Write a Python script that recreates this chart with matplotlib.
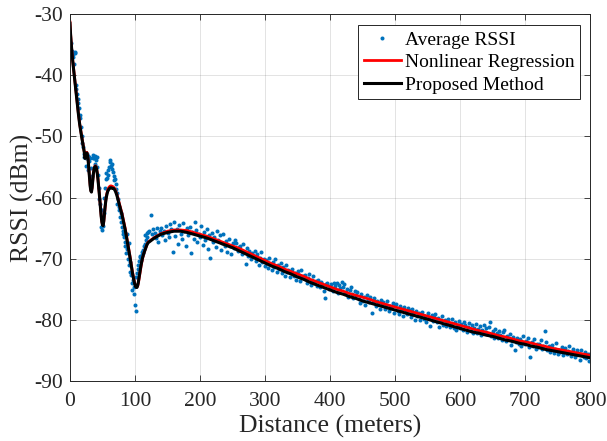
import matplotlib
matplotlib.use("Agg")
import matplotlib.pyplot as plt
import numpy as np

# Measured average RSSI, one sample per metre up to 120 m
rssi_near_d = np.arange(1, 121)
rssi_near = [
    -34.8, -36.7, -36.0, -36.5, -37.0, -38.1, -36.4, -36.2, -41.6, -42.3,
    -43.0, -43.8, -44.6, -45.4, -46.5, -47.0, -48.5, -50.0, -51.0, -51.7,
    -53.3, -52.8, -53.0, -54.8, -53.5, -52.9, -53.2, -55.5, -54.0, -53.4,
    -53.6, -55.2, -57.0, -56.5, -53.5, -53.0, -53.6, -53.2, -54.5, -53.9,
    -53.4, -55.0, -56.3, -58.5, -60.2, -61.0, -62.0, -64.8, -62.1, -65.3,
    -64.6, -62.5, -60.0, -58.5, -57.0, -56.0, -56.8, -55.5, -56.3, -55.0,
    -54.2, -53.9, -54.8, -55.3, -54.5, -55.8, -56.5, -57.2, -57.0, -57.8,
    -58.6, -59.2, -61.0, -60.3, -62.0, -61.5, -63.1, -62.6, -64.0, -64.8,
    -65.5, -65.9, -66.4, -68.0, -67.2, -69.1, -65.9, -68.4, -70.0, -67.5,
    -71.0, -70.6, -72.2, -72.7, -74.0, -75.1, -73.5, -75.7, -74.6, -77.5,
    -73.0, -78.5, -72.3, -71.6, -71.0, -70.4, -69.8, -69.5, -70.2, -69.4,
    -68.9, -69.0, -68.5, -68.0, -67.6, -66.2, -67.0, -65.8, -66.5, -65.7,
]

# Beyond 120 m the samples are every 2 m
rssi_far_d = np.arange(122, 802, 2)
rssi_far = [
    -65.5, -62.9, -66.0, -65.2, -65.8, -66.6, -65.0, -67.3, -65.4, -64.9,
    -66.2, -65.5, -67.0, -64.6, -65.8, -66.5, -64.4, -65.2, -68.9, -64.0,
    -66.3, -65.1, -67.6, -64.5, -65.9, -66.8, -64.2, -65.4, -67.9, -65.0,
    -66.1, -64.8, -69.1, -65.6, -66.7, -64.0, -65.3, -67.2, -65.9, -66.4,
    -64.6, -67.8, -65.7, -66.9, -65.2, -68.4, -66.1, -69.9, -65.8, -67.3,
    -66.5, -68.1, -65.4, -67.0, -66.2, -68.6, -67.4, -66.0, -68.0, -67.1,
    -68.9, -66.8, -67.9, -69.3, -67.5, -68.2, -66.9, -67.4, -68.7, -68.1,
    -68.0, -69.2, -67.6, -68.9, -70.8, -68.3, -69.5, -68.7, -70.1, -69.0,
    -69.6, -68.8, -70.4, -69.2, -71.0, -69.9, -68.9, -70.6, -70.0, -71.2,
    -70.2, -71.5, -69.9, -70.9, -71.8, -70.5, -71.3, -70.0, -72.1, -71.0,
    -71.6, -70.7, -72.4, -71.4, -72.9, -71.1, -72.2, -71.8, -73.0, -72.0,
    -71.7, -72.8, -72.3, -73.4, -72.0, -72.6, -73.7, -71.9, -72.9, -73.2,
    -72.6, -73.9, -73.1, -72.5, -74.3, -73.4, -72.9, -74.0, -73.6, -74.4,
    -73.5, -74.7, -73.8, -74.1, -75.3, -76.5, -74.2, -73.9, -75.0, -74.4,
    -74.1, -75.2, -73.9, -74.5, -74.0, -75.6, -74.3, -74.8, -73.8, -74.6,
    -74.2, -75.5, -74.9, -76.3, -75.1, -74.6, -75.8, -76.5, -75.3, -76.0,
    -75.4, -76.6, -77.2, -75.8, -76.9, -76.2, -77.5, -75.9, -76.7, -77.0,
    -76.3, -78.9, -77.1, -76.5, -77.8, -76.9, -77.4, -78.2, -76.8, -77.6,
    -77.0, -78.3, -77.5, -76.9, -78.6, -77.7, -78.1, -77.2, -78.8, -77.6,
    -77.4, -78.5, -79.0, -77.8, -78.3, -79.4, -77.9, -78.7, -79.1, -78.0,
    -78.4, -79.5, -78.2, -79.0, -80.1, -78.6, -79.3, -78.9, -80.0, -79.2,
    -78.7, -79.8, -79.4, -80.3, -78.9, -79.6, -81.0, -79.2, -80.2, -79.5,
    -79.1, -80.4, -79.7, -81.2, -80.0, -79.4, -80.8, -80.1, -81.0, -80.5,
    -79.8, -81.1, -80.6, -79.9, -81.4, -80.3, -81.7, -80.8, -80.2, -81.3,
    -80.7, -81.6, -80.3, -80.9, -82.0, -81.1, -80.5, -81.8, -80.8, -82.1,
    -81.3, -80.6, -82.2, -81.5, -81.0, -82.5, -81.7, -80.9, -82.0, -81.4,
    -82.3, -81.2, -80.4, -82.6, -81.8, -82.9, -81.5, -82.2, -83.0, -81.9,
    -82.4, -83.3, -82.0, -81.7, -83.5, -82.7, -83.0, -82.3, -84.1, -83.4,
    -82.8, -84.9, -83.6, -82.9, -83.9, -83.2, -84.3, -82.7, -83.8, -84.0,
    -83.4, -82.9, -84.5, -86.0, -83.7, -84.2, -83.1, -84.7, -83.9, -84.4,
    -84.0, -83.3, -84.8, -84.3, -81.9, -83.6, -85.0, -84.2, -85.3, -84.5,
    -84.1, -85.4, -84.7, -83.8, -85.6, -84.9, -85.2, -84.4, -85.8, -85.0,
    -84.6, -85.5, -85.1, -84.3, -85.9, -85.3, -84.8, -86.1, -85.6, -85.0,
    -85.4, -86.5, -84.9, -85.7, -86.0, -85.2, -86.3, -85.6, -86.8, -85.5,
]

# Fitted curves: 1 m steps to 120 m, then 10 m steps
curve_d = np.concatenate([np.arange(0, 121), np.arange(130, 810, 10)])

proposed = [
    -31.5, -33.5, -35.0, -36.3, -37.5, -38.5, -39.5, -40.5, -41.5, -42.5,
    -43.6, -44.6, -45.5, -46.4, -47.3, -48.1, -48.8, -49.5, -50.1, -50.7,
    -51.2, -51.8, -52.6, -53.6, -53.3, -52.8, -52.7, -53.1, -54.0, -55.3,
    -56.8, -58.1, -58.9, -59.1, -58.4, -57.2, -56.1, -55.4, -55.0, -54.9,
    -55.0, -55.4, -56.1, -57.0, -58.1, -59.3, -60.6, -61.9, -63.1, -64.0,
    -64.5, -64.6, -63.8, -62.6, -61.5, -60.6, -59.9, -59.4, -59.0, -58.8,
    -58.6, -58.5, -58.4, -58.4, -58.4, -58.5, -58.5, -58.5, -58.6, -58.8,
    -59.0, -59.3, -59.6, -60.0, -60.4, -60.8, -61.2, -61.6, -62.0, -62.4,
    -62.8, -63.3, -63.8, -64.3, -64.8, -65.3, -65.9, -66.5, -67.1, -67.7,
    -68.3, -68.9, -69.6, -70.3, -71.0, -71.7, -72.3, -72.9, -73.4, -73.9,
    -74.3, -74.6, -74.7, -74.7, -74.4, -73.9, -73.2, -72.5, -71.8, -71.2,
    -70.6, -70.1, -69.7, -69.3, -69.0, -68.7, -68.4, -68.1, -67.8, -67.6,
    -67.4,
    -66.6, -66.0, -65.7, -65.5, -65.5, -65.7, -66.0, -66.3, -66.6, -67.0,
    -67.4, -67.8, -68.2, -68.7, -69.2, -69.7, -70.2, -70.7, -71.2, -71.6,
    -72.1, -72.5, -73.0, -73.4, -73.9, -74.3, -74.7, -75.1, -75.5, -75.8,
    -76.2, -76.5, -76.9, -77.2, -77.5, -77.8, -78.1, -78.4, -78.7, -79.0,
    -79.3, -79.6, -79.9, -80.2, -80.5, -80.8, -81.1, -81.4, -81.7, -82.0,
    -82.2, -82.5, -82.7, -83.0, -83.3, -83.5, -83.8, -84.0, -84.3, -84.5,
    -84.8, -85.0, -85.2, -85.4, -85.6, -85.8, -86.0, -86.2,
]

nonlinear = [
    -31.3, -33.3, -34.9, -36.2, -37.4, -38.4, -39.4, -40.4, -41.4, -42.4,
    -43.5, -44.5, -45.4, -46.3, -47.2, -48.0, -48.7, -49.4, -50.0, -50.6,
    -51.1, -51.7, -52.5, -53.4, -53.2, -52.7, -52.6, -53.0, -53.9, -55.2,
    -56.6, -57.9, -58.8, -59.0, -58.4, -57.2, -56.0, -55.3, -54.9, -54.8,
    -54.9, -55.3, -56.0, -56.9, -58.0, -59.2, -60.5, -61.8, -63.0, -63.9,
    -64.4, -64.5, -63.9, -62.7, -61.5, -60.5, -59.7, -59.2, -58.8, -58.5,
    -58.3, -58.2, -58.1, -58.1, -58.1, -58.2, -58.2, -58.3, -58.4, -58.6,
    -58.8, -59.1, -59.4, -59.8, -60.2, -60.6, -61.0, -61.4, -61.8, -62.2,
    -62.6, -63.1, -63.6, -64.1, -64.6, -65.1, -65.7, -66.3, -66.9, -67.5,
    -68.1, -68.7, -69.4, -70.1, -70.8, -71.5, -72.1, -72.7, -73.2, -73.7,
    -74.1, -74.4, -74.6, -74.6, -74.5, -74.1, -73.5, -72.8, -72.1, -71.4,
    -70.8, -70.3, -69.8, -69.4, -69.0, -68.7, -68.4, -68.1, -67.8, -67.5,
    -67.3,
    -66.5, -65.9, -65.5, -65.3, -65.3, -65.4, -65.7, -66.0, -66.3, -66.7,
    -67.1, -67.5, -67.9, -68.3, -68.8, -69.3, -69.8, -70.3, -70.8, -71.2,
    -71.7, -72.1, -72.5, -72.9, -73.4, -73.8, -74.2, -74.6, -75.0, -75.3,
    -75.7, -76.0, -76.3, -76.6, -77.0, -77.3, -77.6, -77.9, -78.2, -78.5,
    -78.8, -79.1, -79.4, -79.7, -80.0, -80.3, -80.6, -80.9, -81.2, -81.5,
    -81.8, -82.0, -82.3, -82.6, -82.8, -83.1, -83.4, -83.6, -83.8, -84.1,
    -84.3, -84.6, -84.8, -85.0, -85.2, -85.4, -85.6, -85.8,
]

x_ticks = np.arange(0, 801, 100)
y_ticks = np.arange(-90, -29, 10)

plt.rcParams["font.family"] = ["Liberation Serif", "DejaVu Serif"]
plt.rcParams["axes.unicode_minus"] = False
txt = "#262626"

fig = plt.figure(figsize=(6.07, 4.41), dpi=100)
ax = fig.add_axes([0.1153, 0.136, 0.857, 0.832])

ax.plot(np.concatenate([rssi_near_d, rssi_far_d]), rssi_near + rssi_far,
        linestyle="none", marker="o", markersize=2.9, color="#0072BD",
        markeredgewidth=0, label="Average RSSI")
ax.plot(curve_d, nonlinear, color="#FF0000", linewidth=2.0,
        label="Nonlinear Regression")
ax.plot(curve_d, proposed, color="black", linewidth=2.2,
        label="Proposed Method")

ax.set_xlim(0, 800)
ax.set_ylim(-90, -30)
ax.set_xticks(x_ticks)
ax.set_yticks(y_ticks)
ax.grid(True, color="#262626", alpha=0.15, linewidth=0.6)
ax.tick_params(direction="in", length=4, width=0.6, top=True, right=True,
               labelsize=15.5, colors=txt, pad=5)
ax.tick_params(axis="x", pad=8)
for s in ax.spines.values():
    s.set_color(txt)
    s.set_linewidth(0.7)

ax.set_xlabel("Distance (meters)", fontsize=18.5, color=txt, labelpad=3)
ax.set_ylabel("RSSI (dBm)", fontsize=18.5, color=txt, labelpad=0)

leg = ax.legend(loc="upper right", bbox_to_anchor=(0.981, 0.97),
                fontsize=14, fancybox=False, framealpha=1,
                edgecolor=txt, handlelength=1.9, handletextpad=0.2,
                labelspacing=0.25, borderpad=0.3, borderaxespad=0,
                numpoints=1, markerscale=1.0)
leg.get_frame().set_linewidth(0.7)
for t in leg.get_texts():
    t.set_color("black")

fig.savefig("out.png", dpi=100)
